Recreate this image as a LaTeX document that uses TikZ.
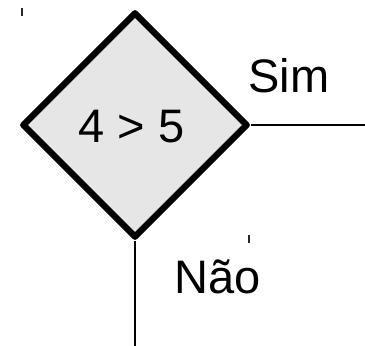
\documentclass[tikz,border=0pt]{standalone}
\usepackage{fontspec}
\setmainfont{Liberation Sans}
\usetikzlibrary{shapes.geometric}
\definecolor{boxfill}{HTML}{E6E6E6}
\tikzset{
  decision/.style={diamond, draw=black, fill=boxfill, line width=6.4pt, line join=round, inner sep=0pt, minimum width=226pt, minimum height=226pt, aspect=1},
  bigtext/.style={inner sep=0pt, anchor=base, font=\fontsize{47}{56}\selectfont},
  flow/.style={draw=black, line width=1.3pt},
  tick/.style={draw=black!85, line width=1.3pt}
}
\begin{document}
\begin{tikzpicture}[x=1pt, y=-1pt]
\useasboundingbox (0,0) rectangle (365,346);
\node[decision] (d) at (135,125) {};
\node[bigtext] (q) at (131.5,142) {4 > 5};
\node[bigtext] (sim) at (289,92) {Sim};
\node[bigtext] (nao) at (218,293) {Não};
\coordinate (e1) at (365,125);
\coordinate (e2) at (135,346);
\draw[flow] (d.east) -- (e1);
\draw[flow] (d.south) -- (e2);
\coordinate (t1a) at (22,8);
\coordinate (t1b) at (22,16);
\coordinate (t2a) at (249,235);
\coordinate (t2b) at (249,243);
\draw[tick] (t1a) -- (t1b);
\draw[tick] (t2a) -- (t2b);
\end{tikzpicture}
\end{document}
